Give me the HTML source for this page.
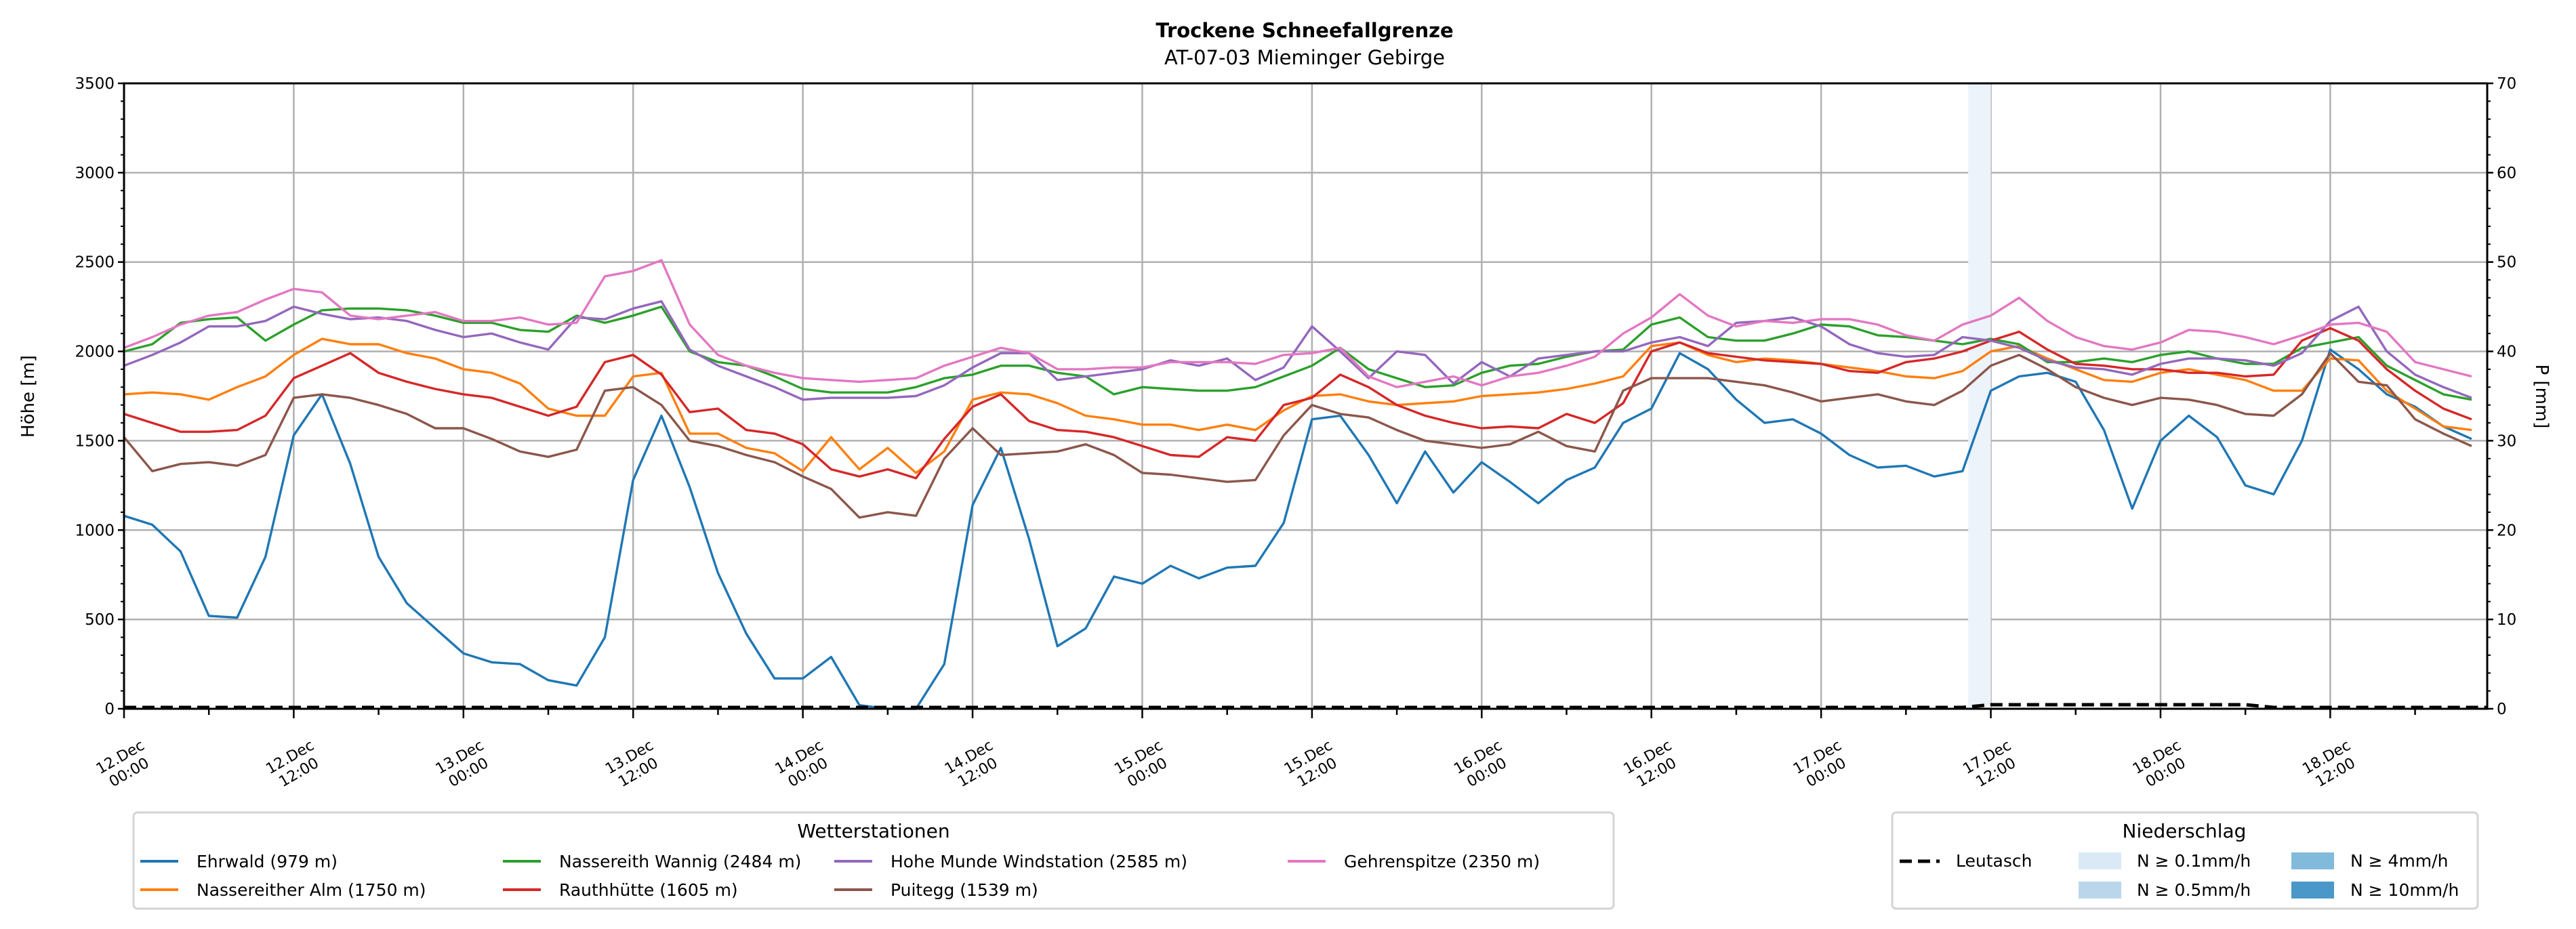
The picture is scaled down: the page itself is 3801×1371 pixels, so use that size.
<!DOCTYPE html>
<html><head><meta charset="utf-8"><style>
html,body{margin:0;padding:0;background:#fff;}
svg{display:block;font-family:"DejaVu Sans","Liberation Sans",sans-serif;}
</style></head><body>
<svg id="chart" width="3801" height="1371" viewBox="0 0 3801 1371" xmlns="http://www.w3.org/2000/svg">
<rect width="3801" height="1371" fill="#fff"/>
<text x="1925" y="55" text-anchor="middle" font-size="29" font-weight="bold">Trockene Schneefallgrenze</text>
<text x="1925" y="95" text-anchor="middle" font-size="29">AT-07-03 Mieminger Gebirge</text>
<g id="grid"></g>
<g id="bands"></g>
<g id="series"></g>
<g id="axes"></g>
<text transform="translate(50,585) rotate(-90)" text-anchor="middle" font-size="26">Höhe [m]</text>
<text transform="translate(3742,585) rotate(90)" text-anchor="middle" font-size="26">P [mm]</text>
<g id="legend1">
<rect x="197" y="1199" width="2184" height="142" rx="6" fill="#fff" stroke="#d4d4d4" stroke-width="3"/>
<text x="1289" y="1236" text-anchor="middle" font-size="28">Wetterstationen</text>
</g>
<g id="legend2">
<rect x="2792" y="1199" width="864" height="142" rx="6" fill="#fff" stroke="#d4d4d4" stroke-width="3"/>
<text x="3223" y="1236" text-anchor="middle" font-size="28">Niederschlag</text>
<line x1="2803" y1="1271" x2="2862" y2="1271" stroke="#000" stroke-width="5" stroke-dasharray="18,9"/>
<text x="2886" y="1279" font-size="25">Leutasch</text>
<rect x="3067" y="1258" width="63" height="25" fill="#dbe9f6"/>
<text x="3153" y="1279" font-size="25">N ≥ 0.1mm/h</text>
<rect x="3067" y="1301" width="63" height="25" fill="#bad6eb"/>
<text x="3153" y="1322" font-size="25">N ≥ 0.5mm/h</text>
<rect x="3381" y="1258" width="63" height="25" fill="#82badb"/>
<text x="3468" y="1279" font-size="25">N ≥ 4mm/h</text>
<rect x="3381" y="1301" width="63" height="25" fill="#4a98c9"/>
<text x="3468" y="1322" font-size="25">N ≥ 10mm/h</text>
</g>
</svg>
<script>
const hours = [0,2,4,6,8,10,12,14,16,18,20,22,24,26,28,30,32,34,36,38,40,42,44,46,48,50,52,54,56,58,60,62,64,66,68,70,72,74,76,78,80,82,84,86,88,90,92,94,96,98,100,102,104,106,108,110,112,114,116,118,120,122,124,126,128,130,132,134,136,138,140,142,144,146,148,150,152,154,156,158,160,162,164,166];
const stationNames = ["Ehrwald (979 m)","Nassereither Alm (1750 m)","Nassereith Wannig (2484 m)","Rauthhütte (1605 m)","Hohe Munde Windstation (2585 m)","Puitegg (1539 m)","Gehrenspitze (2350 m)"];
const ehrwald = [1080,1030,880,520,510,850,1530,1760,1370,850,590,450,310,260,250,160,130,400,1280,1640,1240,760,420,170,170,290,20,0,0,250,1140,1460,950,350,450,740,700,800,730,790,800,1040,1620,1640,1420,1150,1440,1210,1380,1270,1150,1280,1350,1600,1680,1990,1900,1730,1600,1620,1540,1420,1350,1360,1300,1330,1780,1860,1880,1830,1560,1120,1500,1640,1520,1250,1200,1500,2010,1900,1760,1690,1580,1510];
const nassAlm = [1760,1770,1760,1730,1800,1860,1980,2070,2040,2040,1990,1960,1900,1880,1820,1680,1640,1640,1860,1880,1540,1540,1460,1430,1330,1520,1340,1460,1320,1440,1730,1770,1760,1710,1640,1620,1590,1590,1560,1590,1560,1670,1750,1760,1720,1700,1710,1720,1750,1760,1770,1790,1820,1860,2030,2050,1980,1940,1960,1950,1930,1910,1890,1860,1850,1890,2000,2030,1960,1900,1840,1830,1880,1900,1870,1840,1780,1780,1960,1950,1780,1680,1580,1560];
const nassWannig = [2000,2040,2160,2180,2190,2060,2150,2230,2240,2240,2230,2200,2160,2160,2120,2110,2200,2160,2200,2250,2000,1940,1920,1860,1790,1770,1770,1770,1800,1850,1870,1920,1920,1880,1860,1760,1800,1790,1780,1780,1800,1860,1920,2020,1900,1850,1800,1810,1880,1920,1930,1970,2000,2010,2150,2190,2080,2060,2060,2100,2150,2140,2090,2080,2060,2040,2070,2040,1940,1940,1960,1940,1980,2000,1960,1930,1930,2020,2050,2080,1920,1840,1760,1730];
const rauth = [1650,1600,1550,1550,1560,1640,1850,1920,1990,1880,1830,1790,1760,1740,1690,1640,1690,1940,1980,1870,1660,1680,1560,1540,1480,1340,1300,1340,1290,1510,1690,1760,1610,1560,1550,1520,1470,1420,1410,1520,1500,1700,1740,1870,1800,1700,1640,1600,1570,1580,1570,1650,1600,1710,2000,2050,1990,1970,1950,1940,1930,1890,1880,1940,1960,2000,2060,2110,2010,1930,1920,1900,1900,1880,1880,1860,1870,2060,2130,2060,1900,1780,1680,1620];
const hoheMunde = [1920,1980,2050,2140,2140,2170,2250,2210,2180,2190,2170,2120,2080,2100,2050,2010,2190,2180,2240,2280,2010,1920,1860,1800,1730,1740,1740,1740,1750,1810,1910,1990,1990,1840,1860,1880,1900,1950,1920,1960,1840,1910,2140,2000,1850,2000,1980,1820,1940,1860,1960,1980,2000,2000,2050,2080,2030,2160,2170,2190,2140,2040,1990,1970,1980,2080,2060,2020,1950,1910,1900,1870,1930,1960,1960,1950,1920,1990,2170,2250,2000,1870,1800,1740];
const puitegg = [1520,1330,1370,1380,1360,1420,1740,1760,1740,1700,1650,1570,1570,1510,1440,1410,1450,1780,1800,1700,1500,1470,1420,1380,1300,1230,1070,1100,1080,1400,1570,1420,1430,1440,1480,1420,1320,1310,1290,1270,1280,1530,1700,1650,1630,1560,1500,1480,1460,1480,1550,1470,1440,1780,1850,1850,1850,1830,1810,1770,1720,1740,1760,1720,1700,1780,1920,1980,1900,1800,1740,1700,1740,1730,1700,1650,1640,1760,1990,1830,1810,1620,1540,1470];
const gehren = [2020,2080,2150,2200,2220,2290,2350,2330,2200,2180,2200,2220,2170,2170,2190,2150,2160,2420,2450,2510,2150,1980,1920,1880,1850,1840,1830,1840,1850,1920,1970,2020,1990,1900,1900,1910,1910,1940,1940,1940,1930,1980,1990,2020,1860,1800,1830,1860,1810,1860,1880,1920,1970,2100,2190,2320,2200,2140,2170,2160,2180,2180,2150,2090,2060,2150,2200,2300,2170,2080,2030,2010,2050,2120,2110,2080,2040,2090,2150,2160,2110,1940,1900,1860];
const leutaschPrecip = [0,0,0,0,0,0,0,0,0,0,0,0,0,0,0,0,0,0,0,0,0,0,0,0,0,0,0,0,0,0,0,0,0,0,0,0,0,0,0,0,0,0,0,0,0,0,0,0,0,0,0,0,0,0,0,0,0,0,0,0,0,0,0,0,0,0,0.3,0.3,0.3,0.3,0.3,0.3,0.3,0.3,0.3,0.3,0,0,0,0,0,0,0,0];
const bandStart = [130.4];
const bandEnd = [132];
const yTicks = [0,500,1000,1500,2000,2500,3000,3500];
const y2Ticks = [0,10,20,30,40,50,60,70];
const xTickHours = [0,12,24,36,48,60,72,84,96,108,120,132,144,156];
const xTickLabels = [["12.Dec","00:00"],["12.Dec","12:00"],["13.Dec","00:00"],["13.Dec","12:00"],["14.Dec","00:00"],["14.Dec","12:00"],["15.Dec","00:00"],["15.Dec","12:00"],["16.Dec","00:00"],["16.Dec","12:00"],["17.Dec","00:00"],["17.Dec","12:00"],["18.Dec","00:00"],["18.Dec","12:00"]];

const NS="http://www.w3.org/2000/svg";
const L=183,R=3670,T=123,B=1046,HMAX=167.1;
const xs=h=>L+(R-L)*h/HMAX;
const ys=v=>B-(B-T)*v/3500;
const ys2=v=>B-(B-T)*v/70;
function mk(tag,attrs,parent){const e=document.createElementNS(NS,tag);for(const k in attrs)e.setAttribute(k,attrs[k]);parent.appendChild(e);return e;}
const grid=document.getElementById('grid'),bands=document.getElementById('bands'),ser=document.getElementById('series'),axes=document.getElementById('axes');

for(const h of xTickHours){const g=mk('line',{x1:xs(h),x2:xs(h),y1:T,y2:B,stroke:'#b0b0b0','stroke-width':2.5},grid);

}
for(const v of yTicks){const g=mk('line',{x1:L,x2:R,y1:ys(v),y2:ys(v),stroke:'#b0b0b0','stroke-width':2.5},grid);

}

for(let i=0;i<bandStart.length;i++){const r=mk('rect',{x:xs(bandStart[i]),y:T,width:xs(bandEnd[i])-xs(bandStart[i]),height:B-T,fill:'#edf3fa'},bands);

}

const colors=['#1f77b4','#ff7f0e','#2ca02c','#d62728','#9467bd','#8c564b','#e377c2'];
const allSeries=[ehrwald,nassAlm,nassWannig,rauth,hoheMunde,puitegg,gehren];
const seriesNames=['ehrwald-line','nassereither-alm-line','nassereith-wannig-line','rauthhuette-line','hohe-munde-line','puitegg-line','gehrenspitze-line'];
allSeries.forEach((arr,si)=>{
  const d=arr.map((v,i)=>(i?'L':'M')+xs(hours[i]).toFixed(1)+','+ys(v).toFixed(1)).join(' ');
  const p=mk('path',{d:d,fill:'none',stroke:colors[si],'stroke-width':3.4,'stroke-linejoin':'round'},ser);
  
  
});
{
  const d=leutaschPrecip.map((v,i)=>(i?'L':'M')+xs(hours[i]).toFixed(1)+','+(ys2(v)-2).toFixed(1)).join(' ')+' L'+R+','+(B-2);
  const p=mk('path',{d:d,fill:'none',stroke:'#000','stroke-width':5,'stroke-dasharray':'18,9'},ser);
  
  
}

const sp=mk('rect',{x:L,y:T,width:R-L,height:B-T,fill:'none',stroke:'#000','stroke-width':3},axes);


for(let v=0;v<=3500;v+=100){const major=v%500===0;mk('line',{x1:L-(major?9:5),x2:L,y1:ys(v),y2:ys(v),stroke:'#000','stroke-width':major?2.5:2},axes);}
for(const v of yTicks){const t=mk('text',{x:L-14,y:ys(v)+8,'text-anchor':'end','font-size':23},axes);t.textContent=v;

}
for(let v=0;v<=70;v+=2){const major=v%10===0;mk('line',{x1:R,x2:R+(major?9:5),y1:ys2(v),y2:ys2(v),stroke:'#000','stroke-width':major?2.5:2},axes);}
for(const v of y2Ticks){const t=mk('text',{x:R+14,y:ys2(v)+8,'font-size':23},axes);t.textContent=v;

}
for(let h=0;h<=HMAX;h+=6){const major=h%12===0;mk('line',{x1:xs(h),x2:xs(h),y1:B,y2:B+(major?14:9),stroke:'#000','stroke-width':2.5},axes);}
xTickHours.forEach((h,i)=>{
  const g=mk('g',{transform:'translate('+xs(h).toFixed(1)+',1127) rotate(-30)'},axes);
  
  
  const a=mk('text',{x:0,y:-4,'text-anchor':'middle','font-size':22},g);a.textContent=xTickLabels[i][0];
  const b=mk('text',{x:0,y:22,'text-anchor':'middle','font-size':22},g);b.textContent=xTickLabels[i][1];
});
const leg=document.getElementById('legend1');
const colX=[207,742,1231,1900],rowY=[1271,1313];
const order=[[0,0],[0,1],[1,0],[1,1],[2,0],[2,1],[3,0]];
stationNames.forEach((n,i)=>{
  const [c,r]=order[i];
  const ln=mk('line',{x1:colX[c],x2:colX[c]+56,y1:rowY[r],y2:rowY[r],stroke:colors[i],'stroke-width':4},leg);
  
  
  const t=mk('text',{x:colX[c]+83,y:rowY[r]+9,'font-size':25},leg);t.textContent=n;
  
  
});
</script>
</body></html>
